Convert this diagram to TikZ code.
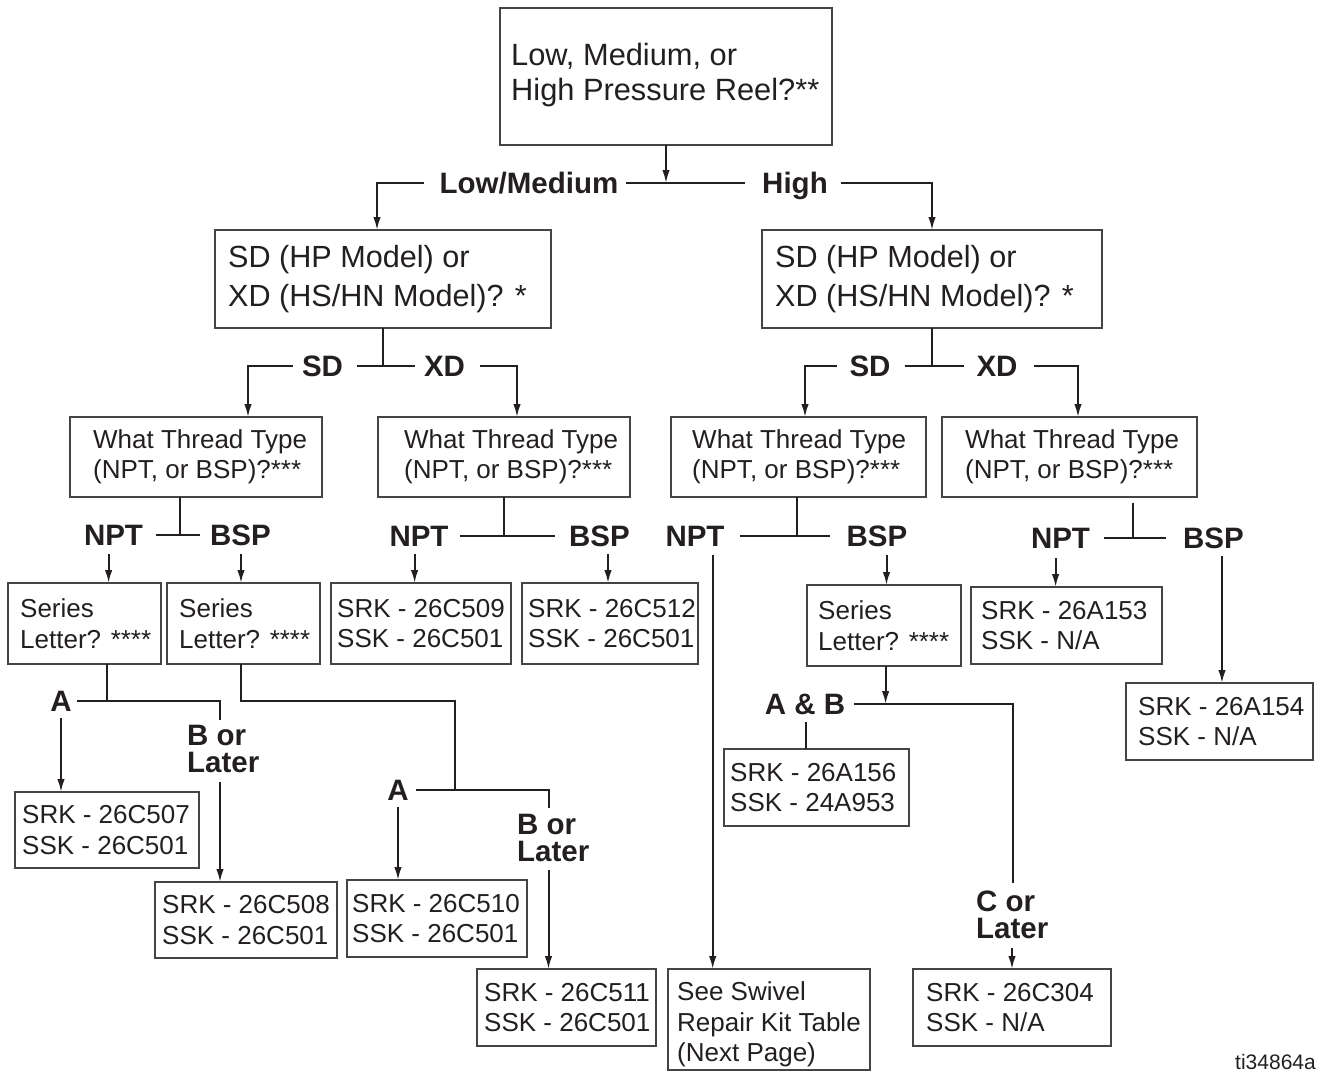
\documentclass[tikz,border=0pt]{standalone}
\usepackage{fontspec}
\setmainfont{Liberation Sans}
\usetikzlibrary{arrows.meta}
\definecolor{ink}{HTML}{231F20}
\definecolor{boxc}{HTML}{444444}
\newcommand\mkbox[8]{%
  \node[bx, minimum width=#4, minimum height=#5] (#1) at ({#2+#4/2},{#3+#5/2}) {};
  \node[#7, anchor=west] (#1t) at ([xshift=#6]#1.west) {#8};
}
\tikzset{
  bx/.style={draw=boxc, line width=1.3pt, inner sep=0pt, outer sep=0pt},
  tx/.style={font=\fontsize{26}{30.5}\selectfont, text=ink, align=left, inner sep=0pt},
  txbig/.style={font=\fontsize{30.8}{35}\selectfont, text=ink, align=left, inner sep=0pt},
  txsd/.style={font=\fontsize{30.6}{39}\selectfont, text=ink, align=left, inner sep=0pt},
  lab/.style={font=\bfseries\fontsize{29.5}{27}\selectfont, text=ink, inner sep=0pt, text height=21pt, text depth=0pt},
  lab2/.style={font=\bfseries\fontsize{29.5}{27}\selectfont, text=ink, inner sep=0pt, align=left},
  ln/.style={draw=ink, line width=2pt},
  arr/.style={ln, -{Latex[length=13pt, width=7.5pt]}},
}
\begin{document}
\begin{tikzpicture}[x=1pt, y=-1pt]
\useasboundingbox (0,0) rectangle (1317,1072);
% boxes
\mkbox{top}{500}{8}{332}{137}{11}{txbig, yshift=1}{Low, Medium, or\\High Pressure Reel?**}
\mkbox{sdl}{215}{230}{336}{98}{13}{txsd}{SD (HP Model) or\\XD (HS/HN Model)? *}
\mkbox{sdr}{762}{230}{340}{98}{13}{txsd}{SD (HP Model) or\\XD (HS/HN Model)? *}
\mkbox{ta}{70}{417}{252}{80}{23}{tx}{What Thread Type\\(NPT, or BSP)?***}
\mkbox{tb}{378}{417}{252}{80}{26}{tx}{What Thread Type\\(NPT, or BSP)?***}
\mkbox{tc}{671}{417}{255}{80}{21}{tx}{What Thread Type\\(NPT, or BSP)?***}
\mkbox{td}{942}{417}{255}{80}{23}{tx}{What Thread Type\\(NPT, or BSP)?***}
\mkbox{sa}{8}{583}{153}{81}{12}{tx}{Series\\Letter? ****}
\mkbox{sb}{167}{583}{153}{81}{12}{tx}{Series\\Letter? ****}
\mkbox{sc}{807}{585}{154}{81}{11}{tx}{Series\\Letter? ****}
\mkbox{ra}{331}{583}{180}{81}{6}{tx}{SRK - 26C509\\SSK - 26C501}
\mkbox{rb}{522}{583}{176}{81}{6}{tx}{SRK - 26C512\\SSK - 26C501}
\mkbox{rc}{971}{587}{191}{77}{10}{tx}{SRK - 26A153\\SSK - N/A}
\mkbox{rd}{1126}{683}{187}{77}{12}{tx}{SRK - 26A154\\SSK - N/A}
\mkbox{re}{15}{792}{184}{76}{7}{tx}{SRK - 26C507\\SSK - 26C501}
\mkbox{rf}{155}{882}{182}{76}{7}{tx}{SRK - 26C508\\SSK - 26C501}
\mkbox{rg}{347}{880}{180}{77}{5}{tx}{SRK - 26C510\\SSK - 26C501}
\mkbox{rh}{477}{969}{179}{77}{7}{tx}{SRK - 26C511\\SSK - 26C501}
\mkbox{ri}{724}{749}{185}{77}{6}{tx}{SRK - 26A156\\SSK - 24A953}
\mkbox{rj}{913}{969}{198}{77}{13}{tx}{SRK - 26C304\\SSK - N/A}
\mkbox{sw}{668}{969}{202}{101}{9}{tx, yshift=-5}{See Swivel\\Repair Kit Table\\(Next Page)}
% labels
\node[lab] (lm) at (529,183) {Low/Medium};
\node[lab] (hi) at (795,183) {High};
\node[lab] (sdL) at (322.5,366) {SD};
\node[lab] (xdL) at (444.5,366) {XD};
\node[lab] (sdR) at (870,366) {SD};
\node[lab] (xdR) at (997,366) {XD};
\node[lab] (npa) at (113.5,535) {NPT};
\node[lab] (bsa) at (240.5,535) {BSP};
\node[lab] (npb) at (419,536) {NPT};
\node[lab] (bsb) at (599.5,536) {BSP};
\node[lab] (npc) at (695,536) {NPT};
\node[lab] (bsc) at (877,536) {BSP};
\node[lab] (npd) at (1060.5,538) {NPT};
\node[lab] (bsd) at (1213.5,538) {BSP};
\node[lab] (aa) at (61,701) {A};
\node[lab2, anchor=west] (bla) at (187,749) {B or\\Later};
\node[lab] (ab) at (398,790) {A};
\node[lab2, anchor=west] (blb) at (517,838) {B or\\Later};
\node[lab] (anb) at (805,704) {A \& B};
\node[lab2, anchor=west] (cl) at (976,915) {C or\\Later};
\node[font=\fontsize{21}{21}\selectfont, text=ink, anchor=base east, inner sep=0pt] (ti) at (1316,1069) {ti34864a};
% level 0
\draw[arr] (top.south) -- (top.south |- lm.center);
\draw[ln] ([xshift=7]lm.east) -- ([xshift=-17]hi.west);
\coordinate (x1) at (377,0);
\draw[arr] ([xshift=-15]lm.west) -| (x1 |- sdl.north);
\draw[arr] ([xshift=13]hi.east) -| (sdr.north);
% level 1 left
\draw[ln] (sdl.south) -- (sdl.south |- sdL.center);
\draw[ln] ([xshift=14]sdL.east) -- ([xshift=-9]xdL.west);
\coordinate (x2) at (248,0);
\coordinate (x3) at (517,0);
\draw[arr] ([xshift=-9]sdL.west) -| (x2 |- ta.north);
\draw[arr] ([xshift=15]xdL.east) -| (x3 |- tb.north);
% level 1 right
\draw[ln] (sdr.south) -- (sdr.south |- sdR.center);
\draw[ln] ([xshift=14]sdR.east) -- ([xshift=-12]xdR.west);
\coordinate (x4) at (805,0);
\coordinate (x5) at (1078,0);
\draw[arr] ([xshift=-12]sdR.west) -| (x4 |- tc.north);
\draw[arr] ([xshift=16]xdR.east) -| (x5 |- td.north);
% level 2
\coordinate (x6) at (180,0);
\draw[ln] (x6 |- ta.south) -- (x6 |- npa.center);
\draw[ln] ([xshift=13]npa.east) -- ([xshift=-10]bsa.west);
\coordinate (c1) at (108.6,554);
\draw[arr] (c1) -- (c1 |- sa.north);
\coordinate (c2) at (241,554);
\draw[arr] (c2) -- (c2 |- sb.north);
\draw[ln] (tb.south) -- (tb.south |- npb.center);
\draw[ln] ([xshift=11]npb.east) -- ([xshift=-14]bsb.west);
\coordinate (c3) at (414.6,554);
\draw[arr] (c3) -- (c3 |- ra.north);
\coordinate (c4) at (608,554);
\draw[arr] (c4) -- (c4 |- rb.north);
\coordinate (x7) at (797,0);
\draw[ln] (x7 |- tc.south) -- (x7 |- npc.center);
\draw[ln] ([xshift=15]npc.east) -- ([xshift=-16.5]bsc.west);
\coordinate (c5) at (712.7,555);
\draw[arr] (c5) -- (c5 |- sw.north);
\coordinate (c6) at (886.5,555);
\draw[arr] (c6) -- (c6 |- sc.north);
\coordinate (c7) at (1133,503);
\draw[ln] (c7) -- (c7 |- npd.center);
\draw[ln] ([xshift=13.5]npd.east) -- ([xshift=-17]bsd.west);
\coordinate (c8) at (1055.6,558);
\draw[arr] (c8) -- (c8 |- rc.north);
\coordinate (c9) at (1222,556);
\draw[arr] (c9) -- (c9 |- rd.north);
% level 3 left
\coordinate (x8) at (106.5,0);
\draw[ln] (x8 |- sa.south) -- (x8 |- aa.center);
\coordinate (d1) at (220,720);
\draw[ln] ([xshift=5]aa.east) -| (d1);
\coordinate (c10) at (61,718);
\draw[arr] (c10) -- (c10 |- re.north);
\coordinate (c11) at (220,782);
\draw[arr] (c11) -- (c11 |- rf.north);
\coordinate (e2) at (241,0);
\coordinate (f2) at (454.5,701);
\draw[ln] (e2 |- sb.south) |- (f2) -- (f2 |- ab.center);
\coordinate (d2) at (549,808);
\draw[ln] ([xshift=7]ab.east) -| (d2);
\coordinate (c12) at (398,807);
\draw[arr] (c12) -- (c12 |- rg.north);
\coordinate (c13) at (548.5,870);
\draw[arr] (c13) -- (c13 |- rh.north);
% level 3 right
\coordinate (x9) at (885.6,0);
\draw[arr] (x9 |- sc.south) -- (x9 |- anb.center);
\coordinate (d3) at (1012.6,883);
\draw[ln] ([xshift=9]anb.east) -| (d3);
\coordinate (c14) at (805.5,722);
\draw[ln] (c14) -- (c14 |- ri.north);
\coordinate (c15) at (1012,948);
\draw[arr] (c15) -- (c15 |- rj.north);
\end{tikzpicture}
\end{document}
